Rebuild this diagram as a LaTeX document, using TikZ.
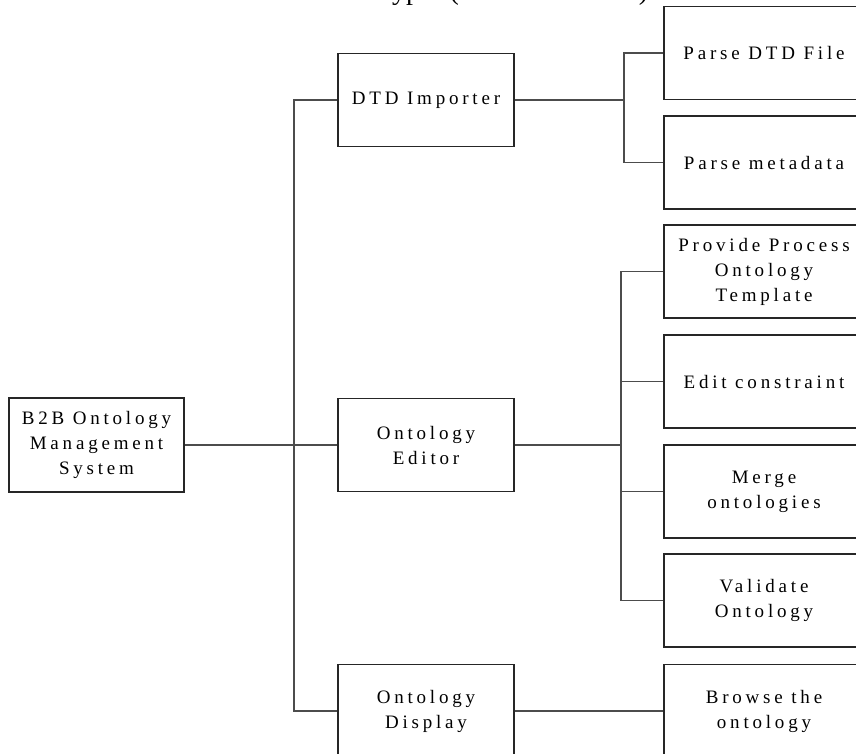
\documentclass[tikz,border=0pt]{standalone}
\usepackage{fontspec}
\setmainfont{Liberation Serif}
\newfontfamily\boxfont[LetterSpace=20]{Liberation Serif}
\begin{document}
\begin{tikzpicture}[x=1pt,y=-1pt,
  box/.style={draw=black!85, line width=1.2pt, inner sep=0pt, align=center,
    minimum height=93pt, font=\boxfont\fontsize{19}{25}\selectfont},
  lbox/.style={box, minimum width=176pt},
  rbox/.style={box, minimum width=200pt},
  conn/.style={draw=black!70, line width=1.2pt}]
\useasboundingbox (0,0) rectangle (856,753);
\fill[white] (0,0) rectangle (856,753);
\clip (0,0) rectangle (856,753);
% clipped title
\node[anchor=base west, inner sep=0pt, font=\fontsize{28}{30}\selectfont] (title) at (392,-1) {ype\hspace{17pt}(\hspace{180pt})};
% nodes
\node[box, minimum width=175pt, minimum height=94pt] (b2b) at (96.5,445) {B2B Ontology\\Management\\System};
\node[lbox] (dtd) at (426,100) {DTD Importer};
\node[lbox] (editor) at (426,445) {Ontology\\Editor};
\node[lbox] (display) at (426,711) {Ontology\\Display};
\node[rbox] (pdtd) at (764,53) {Parse DTD File};
\node[rbox] (pmeta) at (764,162.5) {Parse metadata};
\node[rbox] (provide) at (764,271.5) {Provide Process\\Ontology\\Template};
\node[rbox] (edit) at (764,381.5) {Edit constraint};
\node[rbox] (merge) at (764,491.5) {Merge\\ontologies};
\node[rbox] (validate) at (764,600.5) {Validate\\Ontology};
\node[rbox] (browse) at (764,711) {Browse the\\ontology};
% junctions
\coordinate (trunk) at (294,445);
\coordinate (dtdj) at (624,100);
\coordinate (edj) at (621,445);
% connectors
\draw[conn] (b2b.east) -- (trunk);
\draw[conn] (trunk) |- (dtd.west);
\draw[conn] (trunk) -- (editor.west);
\draw[conn] (trunk) |- (display.west);
\draw[conn] (dtd.east) -- (dtdj);
\draw[conn] (dtdj) |- (pdtd.west);
\draw[conn] (dtdj) |- (pmeta.west);
\draw[conn] (editor.east) -- (edj);
\draw[conn] (edj) |- (provide.west);
\draw[conn] (edj) |- (edit.west);
\draw[conn] (edj) |- (merge.west);
\draw[conn] (edj) |- (validate.west);
\draw[conn] (display.east) -- (browse.west);
\end{tikzpicture}
\end{document}
